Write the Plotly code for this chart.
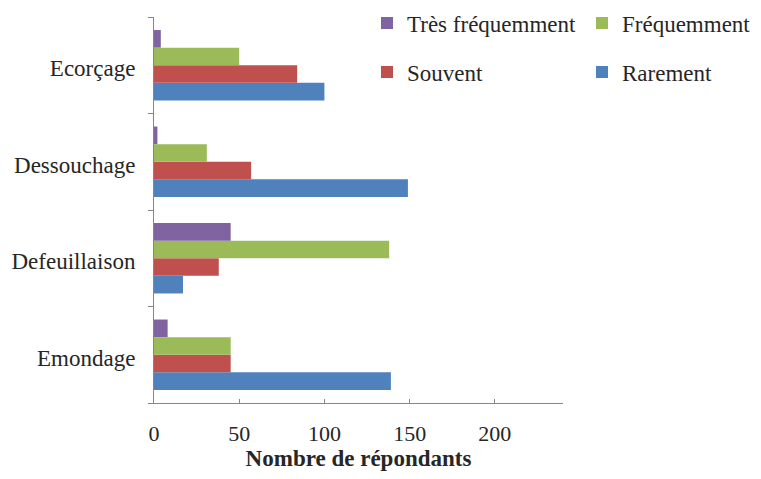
import plotly.graph_objects as go

categories = ["Emondage", "Defeuillaison", "Dessouchage", "Ecorçage"]
rarement = [139, 17, 149, 100]
souvent = [45, 38, 57, 84]
frequemment = [45, 138, 31, 50]
tres_frequemment = [8, 45, 2, 4]
x_ticks = [0, 50, 100, 150, 200]

series = [
    ("Rarement", rarement, "#4F81BD", "legend4"),
    ("Souvent", souvent, "#C0504D", "legend3"),
    ("Fréquemment", frequemment, "#9BBB59", "legend2"),
    ("Très fréquemment", tres_frequemment, "#8064A2", "legend"),
]

FONT = "Liberation Serif, Times New Roman, Times, serif"
TXT = "#262626"
fig = go.Figure()
for name, vals, color, leg in series:
    fig.add_trace(go.Bar(
        y=categories, x=vals, name=name, orientation="h",
        marker=dict(color=color, line=dict(width=0)),
        legend=leg, showlegend=True,
    ))

# page body has an 8px margin; work in page pixels and offset
OFF = 8
W, H = 761 - OFF, 479 - 2 * OFF
L, T = 154 - OFF, 17 - OFF
pw, ph = 409, 386
R = W - L - pw
B = H - T - ph

def px_x(x):
    return (x - OFF - L) / pw

def px_y(y):
    return 1 - (y - OFF - T) / ph

legfont = dict(family=FONT, size=23, color=TXT)
def leg(xpx, ypx):
    return dict(x=px_x(xpx), y=px_y(ypx), xanchor="left", yanchor="middle",
                bgcolor="rgba(0,0,0,0)", font=legfont, itemwidth=30)

fig.update_layout(
    width=W, height=H,
    margin=dict(l=L, r=R, t=T, b=B, autoexpand=False),
    paper_bgcolor="white", plot_bgcolor="white",
    showlegend=True,
    barmode="group", bargap=0.27, bargroupgap=0,
    font=dict(family=FONT, size=22, color=TXT),
    legend=leg(367, 23),
    legend2=leg(582, 23),
    legend3=leg(367, 72),
    legend4=leg(582, 72),
    xaxis=dict(
        range=[0, 240], tickvals=x_ticks, showgrid=False, zeroline=False,
        showline=True, linecolor="#868686", linewidth=1,
        ticks="inside", ticklen=4, tickcolor="#868686",
        ticklabelstandoff=11,
        tickfont=dict(family=FONT, size=22, color=TXT),
        title=dict(text="<b>Nombre de répondants</b>", standoff=11,
                   font=dict(family=FONT, size=23, color=TXT)),
    ),
    yaxis=dict(
        type="category", categoryorder="array", categoryarray=categories,
        range=[-0.5, 3.5], showgrid=False, zeroline=False,
        showline=True, linecolor="#868686", linewidth=1,
        ticks="outside", ticklen=5, tickcolor="#868686", tickson="boundaries",
        ticklabelstandoff=13, ticklabelshift=3,
        tickfont=dict(family=FONT, size=23, color=TXT),
    ),
)

fig.write_html("out.html")
